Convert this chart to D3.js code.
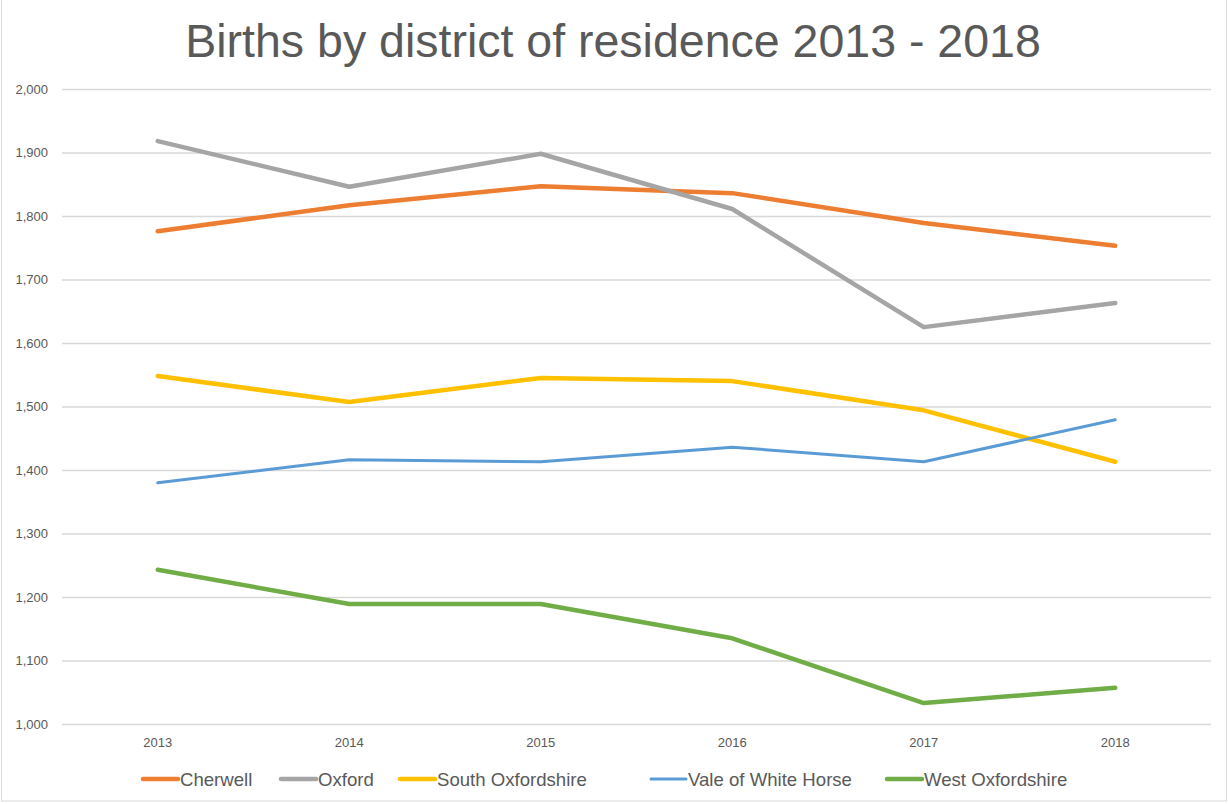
<!DOCTYPE html>
<html><head><meta charset="utf-8">
<script src="https://cdn.jsdelivr.net/npm/d3@7"></script>
<style>body{margin:0;background:#fff}svg{display:block}text{font-family:"Liberation Sans",Arial,sans-serif}</style>
</head><body><svg id="c" width="1228" height="804"></svg>
<script>
const years = ["2013","2014","2015","2016","2017","2018"];
const seriesNames = ["Cherwell","Oxford","South Oxfordshire","Vale of White Horse","West Oxfordshire"];
const cherwell = [1776,1817,1847,1836,1789,1753];
const oxford = [1918,1846,1898,1811,1625,1663];
const southOx = [1548,1507,1545,1540,1494,1413];
const vale = [1380,1416,1413,1436,1413,1479];
const westOx = [1243,1189,1189,1135,1033,1057];
const yTicks = [1000,1100,1200,1300,1400,1500,1600,1700,1800,1900,2000];
const colors = ["#ed7d31","#a5a5a5","#ffc000","#5b9bd5","#70ad47"];
const widths = [4.5,4.5,4.5,3,4.5];
const legendX = [143,281,400,651,887];
const data = [cherwell,oxford,southOx,vale,westOx];

const svg = d3.select("#c");
svg.append("rect").attr("x",1.5).attr("y",-2).attr("width",1225).attr("height",803)
  .attr("fill","#fff").attr("stroke","#d9d9d9");

const x = d3.scaleBand().domain(years).range([62,1211]);
const y = d3.scaleLinear().domain([1000,2000]).range([724,89]);

svg.append("text").attr("x",613).attr("y",57).attr("text-anchor","middle")
  .attr("font-size",46.5).attr("fill","#595959").text("Births by district of residence 2013 - 2018");

const ga = svg.append("g").attr("transform","translate(62,0)")
  .call(d3.axisLeft(y).tickValues(yTicks).tickSize(-1149).tickPadding(14).tickFormat(d3.format(",")));
ga.select(".domain").remove();
ga.selectAll(".tick line").attr("stroke","#d9d9d9").attr("stroke-width",1.3);
ga.selectAll(".tick text").attr("font-size",13).attr("fill","#595959").attr("font-family","Liberation Sans, Arial, sans-serif");

const gx = svg.append("g").attr("transform","translate(0,724)")
  .call(d3.axisBottom(x).tickSize(0).tickPadding(14));
gx.select(".domain").remove();
gx.selectAll(".tick text").attr("font-size",13).attr("fill","#595959").attr("font-family","Liberation Sans, Arial, sans-serif");

const line = d3.line().x((d,i)=>x(years[i])+x.bandwidth()/2).y(d=>y(d));
data.forEach((s,k)=>{
  svg.append("path").attr("d",line(s)).attr("fill","none").attr("stroke",colors[k])
    .attr("stroke-width",widths[k]).attr("stroke-linecap","round").attr("stroke-linejoin","round");
});

// legend
const swatch = 35, ly = 779;
seriesNames.forEach((n,k)=>{
  const g = svg.append("g").attr("transform",`translate(${legendX[k]},${ly})`);
  g.append("line").attr("x1",0).attr("x2",swatch).attr("y1",0).attr("y2",0)
    .attr("stroke",colors[k]).attr("stroke-width",widths[k]).attr("stroke-linecap","round");
  g.append("text").attr("x",swatch+2).attr("y",6.5).attr("font-size",18.6)
    .attr("fill","#595959").text(n);
});
</script></body></html>
